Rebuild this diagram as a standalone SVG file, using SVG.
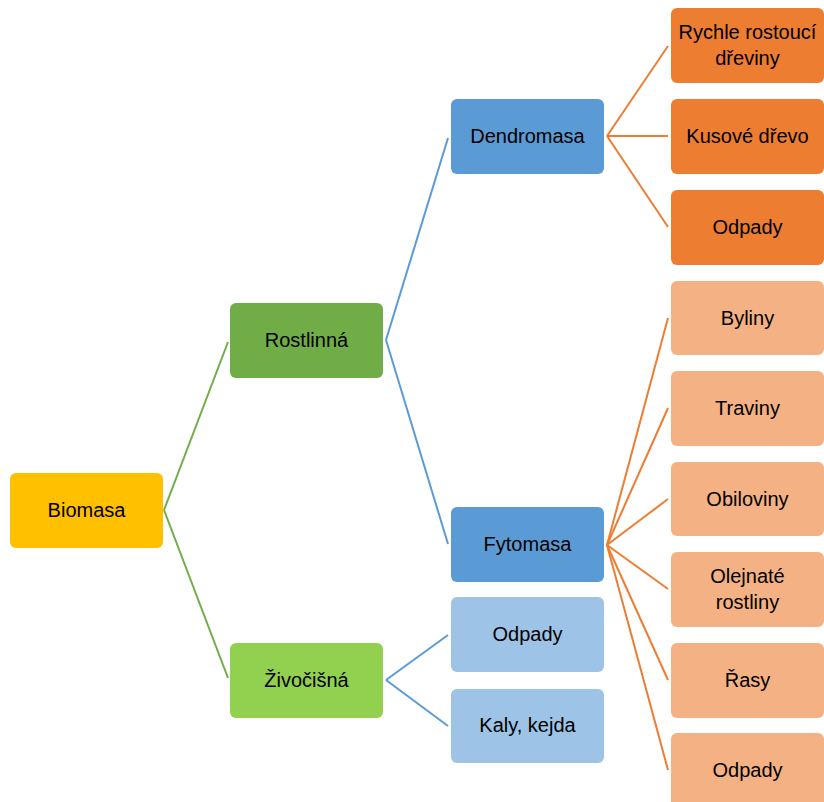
<svg xmlns="http://www.w3.org/2000/svg" width="824" height="802" viewBox="0 0 824 802">
<style>
rect{rx:6;ry:6}
text{font-family:"Liberation Sans",Arial,sans-serif;font-size:20px;fill:#000;text-anchor:middle}
.c line{stroke-width:2;fill:none}
.g{stroke:#70AD47}.b{stroke:#5B9BD5}.o{stroke:#ED7D31}
</style>
<rect width="824" height="802" fill="#fff" rx="0" ry="0"/>
<g class="c" id="connectors">
<line class="g" x1="164" y1="510" x2="228" y2="342"/>
<line class="g" x1="164" y1="510" x2="228" y2="678"/>
<line class="b" x1="386" y1="340" x2="448" y2="138"/>
<line class="b" x1="386" y1="340" x2="448" y2="544"/>
<line class="b" x1="386" y1="680" x2="448" y2="635"/>
<line class="b" x1="386" y1="680" x2="448" y2="726"/>
<line class="o" x1="607" y1="136" x2="668" y2="46"/>
<line class="o" x1="607" y1="136" x2="668" y2="136"/>
<line class="o" x1="607" y1="136" x2="668" y2="227"/>
<line class="o" x1="607" y1="545" x2="668" y2="318"/>
<line class="o" x1="607" y1="545" x2="668" y2="408"/>
<line class="o" x1="607" y1="545" x2="668" y2="499"/>
<line class="o" x1="607" y1="545" x2="668" y2="589"/>
<line class="o" x1="607" y1="545" x2="668" y2="680"/>
<line class="o" x1="607" y1="545" x2="668" y2="770"/>
</g>
<g id="biomasa"><rect x="10" y="473" width="153" height="75" fill="#FFC000"/><text x="86.5" y="517">Biomasa</text></g>
<g id="rostlinna"><rect x="230" y="303" width="153" height="75" fill="#70AD47"/><text x="306.5" y="347">Rostlinná</text></g>
<g id="zivocisna"><rect x="230" y="643" width="153" height="75" fill="#92D050"/><text x="306.5" y="687">Živočišná</text></g>
<g id="dendromasa"><rect x="451" y="99" width="153" height="75" fill="#5B9BD5"/><text x="527.5" y="143">Dendromasa</text></g>
<g id="fytomasa"><rect x="451" y="507" width="153" height="75" fill="#5B9BD5"/><text x="527.5" y="551">Fytomasa</text></g>
<g id="odpady-zv"><rect x="451" y="597" width="153" height="75" fill="#9DC3E6"/><text x="527.5" y="641">Odpady</text></g>
<g id="kaly"><rect x="451" y="689" width="153" height="74" fill="#9DC3E6"/><text x="527.5" y="732">Kaly, kejda</text></g>
<g id="rychle"><rect x="671" y="8" width="153" height="75" fill="#ED7D31"/><text x="747.5" y="39">Rychle rostoucí</text><text x="747.5" y="65">dřeviny</text></g>
<g id="kusove"><rect x="671" y="99" width="153" height="75" fill="#ED7D31"/><text x="747.5" y="143">Kusové dřevo</text></g>
<g id="odpady-d"><rect x="671" y="190" width="153" height="75" fill="#ED7D31"/><text x="747.5" y="234">Odpady</text></g>
<g id="byliny"><rect x="671" y="281" width="153" height="74" fill="#F4B183"/><text x="747.5" y="325">Byliny</text></g>
<g id="traviny"><rect x="671" y="371" width="153" height="75" fill="#F4B183"/><text x="747.5" y="415">Traviny</text></g>
<g id="obiloviny"><rect x="671" y="462" width="153" height="74" fill="#F4B183"/><text x="747.5" y="506">Obiloviny</text></g>
<g id="olejnate"><rect x="671" y="552" width="153" height="75" fill="#F4B183"/><text x="747.5" y="583">Olejnaté</text><text x="747.5" y="609">rostliny</text></g>
<g id="rasy"><rect x="671" y="643" width="153" height="75" fill="#F4B183"/><text x="747.5" y="687">Řasy</text></g>
<g id="odpady-f"><rect x="671" y="733" width="153" height="75" fill="#F4B183"/><text x="747.5" y="777">Odpady</text></g>
</svg>
